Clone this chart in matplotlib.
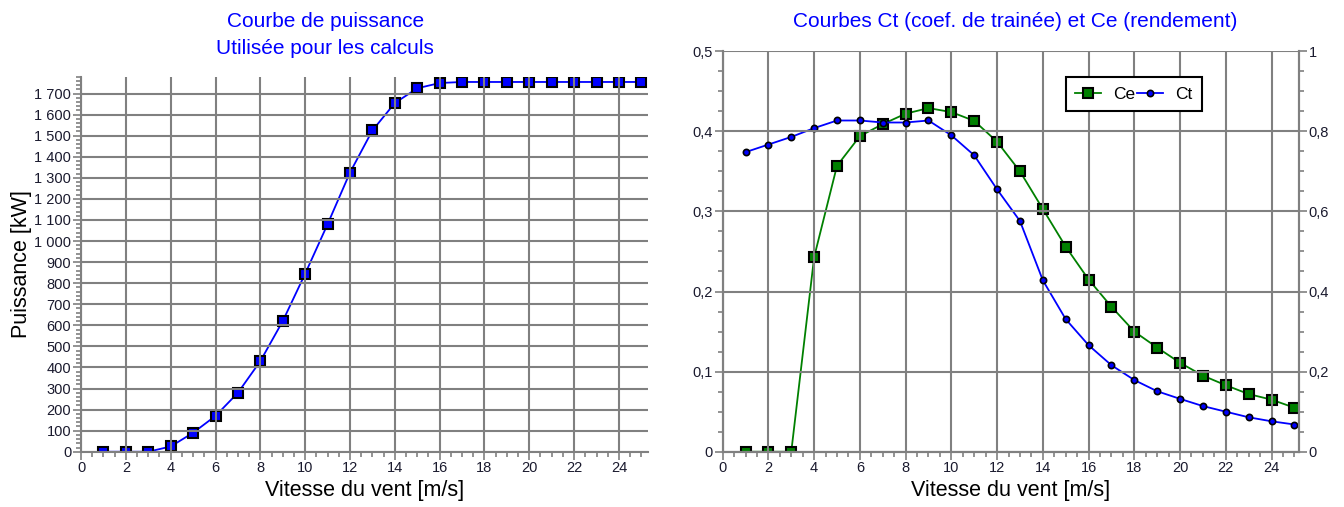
import numpy as np
import matplotlib
matplotlib.use("Agg")
import matplotlib.pyplot as plt
from matplotlib.ticker import MultipleLocator, FuncFormatter
from matplotlib.lines import Line2D

plt.rcParams['font.family'] = ['Liberation Sans', 'DejaVu Sans']

# vitesse du vent [m/s]
vitesse = list(range(1, 26))

# courbe de puissance [kW]
puissance = [0, 0, 0, 25, 90, 170, 280, 430, 620, 845, 1080, 1325, 1525, 1655,
             1725, 1750, 1755, 1755, 1755, 1755, 1755, 1755, 1755, 1755, 1755]

# Ce (rendement) - axe gauche
ce = [0, 0, 0, 0.243, 0.357, 0.394, 0.409, 0.422, 0.429, 0.424, 0.413, 0.387,
      0.350, 0.303, 0.256, 0.215, 0.181, 0.150, 0.130, 0.111, 0.095, 0.083,
      0.072, 0.065, 0.055]

# Ct (coef. de trainee) - axe droit
ct = [0.748, 0.767, 0.786, 0.808, 0.827, 0.827, 0.822, 0.822, 0.827, 0.790,
      0.740, 0.655, 0.576, 0.428, 0.331, 0.266, 0.216, 0.179, 0.151, 0.132,
      0.114, 0.100, 0.086, 0.076, 0.068]

GRIS = '#808080'
TXT = '#1a1a2e'


def virgule(v, pos):
    s = '%g' % round(v, 3)
    return s.replace('.', ',')


def milliers(v, pos):
    return '{:,}'.format(int(round(v))).replace(',', ' ')


def style_axe(ax, spines):
    for k, sp in ax.spines.items():
        sp.set_visible(k in spines)
        sp.set_color(GRIS)
        sp.set_linewidth(1.5)
    ax.tick_params(which='both', color=GRIS, direction='out', width=1.2,
                   labelsize=10.5, labelcolor=TXT, pad=1)
    ax.tick_params(which='major', length=6)
    ax.tick_params(which='minor', length=3.5)


fig = plt.figure(figsize=(13.44, 5.07), dpi=100)

# ---- courbe de puissance ----
ax = fig.add_axes([0.0603, 0.109, 0.4219, 0.7397])
ax.plot(vitesse, puissance, color='#0000ff', lw=1.3, marker='s', ms=7,
        mfc='#0000ff', mec='black', mew=1.5)
ax.set_xlim(0, 25.3)
ax.set_ylim(0, 1780)
ax.xaxis.set_major_locator(MultipleLocator(2))
ax.xaxis.set_minor_locator(MultipleLocator(0.5))
ax.yaxis.set_major_locator(MultipleLocator(100))
ax.yaxis.set_minor_locator(MultipleLocator(20))
ax.yaxis.set_major_formatter(FuncFormatter(milliers))
ax.grid(True, which='major', color=GRIS, lw=1.5)
ax.set_axisbelow(False)
style_axe(ax, ['left', 'bottom'])
ax.set_xlabel('Vitesse du vent [m/s]', fontsize=15.5, labelpad=3)
ax.set_ylabel('Puissance [kW]', fontsize=15.5, labelpad=2)
fig.text(0.242, 0.957, 'Courbe de puissance', color='#0000ff', fontsize=15,
         ha='center', va='center')
fig.text(0.242, 0.905, 'Utilisée pour les calculs', color='#0000ff', fontsize=15,
         ha='center', va='center')

# ---- Ct et Ce ----
ax1 = fig.add_axes([0.5377, 0.109, 0.4288, 0.790])
ax1.plot(vitesse, ce, color='#008000', lw=1.3, marker='s', ms=7.5,
         mfc='#008000', mec='black', mew=1.5)
ax1.set_xlim(0, 25.2)
ax1.set_ylim(0, 0.5)
ax1.xaxis.set_major_locator(MultipleLocator(2))
ax1.xaxis.set_minor_locator(MultipleLocator(0.5))
ax1.yaxis.set_major_locator(MultipleLocator(0.1))
ax1.yaxis.set_minor_locator(MultipleLocator(0.025))
ax1.yaxis.set_major_formatter(FuncFormatter(virgule))
ax1.grid(True, which='major', axis='x', color=GRIS, lw=1.5)
ax1.set_axisbelow(False)
style_axe(ax1, ['left', 'bottom', 'right'])
ax1.set_xlabel('Vitesse du vent [m/s]', fontsize=15.5, labelpad=3)

ax2 = ax1.twinx()
ax2.plot(vitesse, ct, color='#0000ff', lw=1.3, marker='o', ms=4.5,
         mfc='#0000ff', mec='black', mew=1.2)
ax2.set_ylim(0, 1)
ax2.yaxis.set_major_locator(MultipleLocator(0.2))
ax2.yaxis.set_minor_locator(MultipleLocator(0.05))
ax2.yaxis.set_major_formatter(FuncFormatter(virgule))
ax2.grid(True, which='major', axis='y', color=GRIS, lw=1.5)
ax2.set_axisbelow(False)
style_axe(ax2, ['left', 'bottom', 'right'])

fig.text(0.755, 0.957, 'Courbes Ct (coef. de trainée) et Ce (rendement)',
         color='#0000ff', fontsize=15, ha='center', va='center')

poignees = [
    Line2D([], [], color='#008000', lw=1.3, marker='s', ms=7.5,
           mfc='#008000', mec='black', mew=1.5),
    Line2D([], [], color='#0000ff', lw=1.3, marker='o', ms=4.5,
           mfc='#0000ff', mec='black', mew=1.2),
]
leg = ax2.legend(poignees, ['Ce', 'Ct'], ncol=2, loc='upper left',
                 bbox_to_anchor=(0.595, 0.935), fontsize=12.5, frameon=True,
                 fancybox=False, edgecolor='black', framealpha=1,
                 handlelength=1.5, columnspacing=0.1, handletextpad=0.7,
                 borderpad=0.55, borderaxespad=0)
leg.get_frame().set_linewidth(1.5)
leg.set_zorder(10)

fig.savefig('out.png', dpi=100)
